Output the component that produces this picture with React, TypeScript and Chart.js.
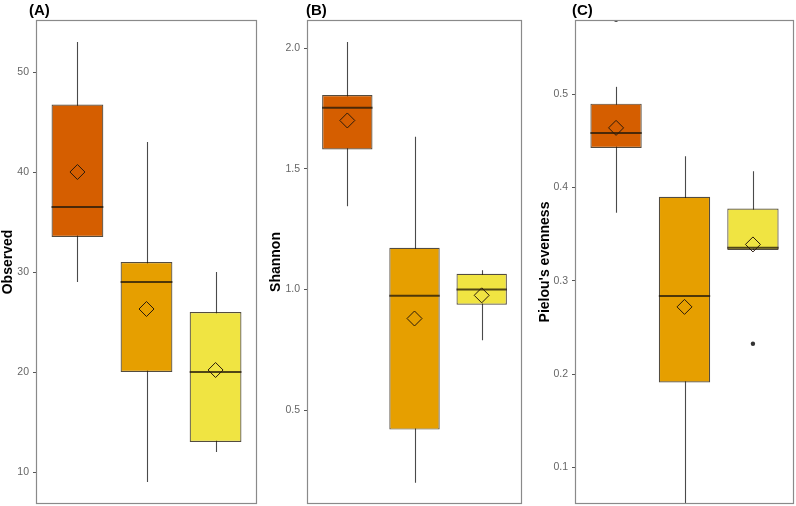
import React, { useEffect, useRef } from 'react';
import { Chart, registerables } from 'chart.js';
Chart.register(...registerables);

// ---------- data ----------
const GROUPS = [1, 2, 3];
const FILLS = ['#D55E00', '#E69F00', '#F0E442'];

// (A) Observed
const OBS_LOW = [29, 9, 12];
const OBS_Q1 = [33.5, 20, 13];
const OBS_MED = [36.5, 29, 20];
const OBS_Q3 = [46.75, 31, 26];
const OBS_HIGH = [53, 43, 30];
const OBS_MEAN = [40, 26.3, 20.2];
const OBS_OUT_X: number[] = [];
const OBS_OUT_Y: number[] = [];
const OBS_TICKS = [10, 20, 30, 40, 50];
const OBS_RANGE = [6.8, 55.2];

// (B) Shannon
const SHA_LOW = [1.345, 0.2, 0.79];
const SHA_Q1 = [1.58, 0.42, 0.937];
const SHA_MED = [1.753, 0.974, 1.0];
const SHA_Q3 = [1.805, 1.173, 1.065];
const SHA_HIGH = [2.025, 1.633, 1.08];
const SHA_MEAN = [1.7, 0.88, 0.976];
const SHA_OUT_X: number[] = [];
const SHA_OUT_Y: number[] = [];
const SHA_TICKS = [0.5, 1.0, 1.5, 2.0];
const SHA_RANGE = [0.112, 2.116];

// (C) Pielou's evenness
const PIE_LOW = [0.373, 0.04, 0.333];
const PIE_Q1 = [0.4424, 0.191, 0.333];
const PIE_MED = [0.4585, 0.2836, 0.3354];
const PIE_Q3 = [0.49, 0.39, 0.3775];
const PIE_HIGH = [0.508, 0.4336, 0.4175];
const PIE_MEAN = [0.464, 0.272, 0.339];
const PIE_OUT_X = [1, 3];
const PIE_OUT_Y = [0.58, 0.2325];
const PIE_TICKS = [0.1, 0.2, 0.3, 0.4, 0.5];
const PIE_RANGE = [0.0606, 0.5797];

const PANELS = [
  { tag: '(A)', ylabel: 'Observed', low: OBS_LOW, q1: OBS_Q1, med: OBS_MED, q3: OBS_Q3, high: OBS_HIGH, mean: OBS_MEAN, outX: OBS_OUT_X, outY: OBS_OUT_Y, ticks: OBS_TICKS, range: OBS_RANGE, digits: 0 },
  { tag: '(B)', ylabel: 'Shannon', low: SHA_LOW, q1: SHA_Q1, med: SHA_MED, q3: SHA_Q3, high: SHA_HIGH, mean: SHA_MEAN, outX: SHA_OUT_X, outY: SHA_OUT_Y, ticks: SHA_TICKS, range: SHA_RANGE, digits: 1 },
  { tag: '(C)', ylabel: "Pielou's evenness", low: PIE_LOW, q1: PIE_Q1, med: PIE_MED, q3: PIE_Q3, high: PIE_HIGH, mean: PIE_MEAN, outX: PIE_OUT_X, outY: PIE_OUT_Y, ticks: PIE_TICKS, range: PIE_RANGE, digits: 1 },
];

// ---------- layout (pixels) ----------
const LAYOUT = [
  { left: 0, width: 262, axisW: 36, padR: 5, tagDx: -7, titleDx: -28 },
  { left: 262, width: 262, axisW: 45, padR: 2, tagDx: -1, titleDx: -31 },
  { left: 524, width: 272, axisW: 51, padR: 2, tagDx: -3, titleDx: -30 },
];
const H = 506;
const FONT = '"Liberation Sans", Arial, sans-serif';
const BOX_LINE = 'rgba(35,25,10,0.78)';
const WHISKER = '#4a4a4a';

const extrasPlugin = {
  id: 'boxExtras',
  beforeDatasetsDraw(chart: any) {
    const o = chart.options.plugins.boxExtras;
    const { ctx, chartArea: ca, scales } = chart;
    ctx.save();
    ctx.beginPath();
    ctx.rect(ca.left, ca.top, ca.right - ca.left, ca.bottom - ca.top);
    ctx.clip();
    ctx.strokeStyle = WHISKER;
    ctx.lineWidth = 1.1;
    GROUPS.forEach((g, i) => {
      const px = Math.round(scales.x.getPixelForValue(g)) + 0.5;
      ctx.beginPath();
      ctx.moveTo(px, scales.y.getPixelForValue(o.low[i]));
      ctx.lineTo(px, scales.y.getPixelForValue(o.high[i]));
      ctx.stroke();
    });
    ctx.restore();
  },
  afterDatasetDraw(chart: any, args: any) {
    if (args.index !== 0) return;
    const o = chart.options.plugins.boxExtras;
    const { ctx, scales } = chart;
    const meta = chart.getDatasetMeta(0);
    ctx.save();
    ctx.strokeStyle = BOX_LINE;
    ctx.lineWidth = 2;
    GROUPS.forEach((g, i) => {
      const bar = meta.data[i];
      const w = bar.width;
      const py = scales.y.getPixelForValue(o.med[i]);
      ctx.beginPath();
      ctx.moveTo(bar.x - w / 2, py);
      ctx.lineTo(bar.x + w / 2, py);
      ctx.stroke();
    });
    ctx.restore();
  },
  afterDraw(chart: any) {
    const o = chart.options.plugins.boxExtras;
    const { ctx, chartArea: ca } = chart;
    ctx.save();
    ctx.strokeStyle = '#8a8a8a';
    ctx.lineWidth = 1.2;
    ctx.strokeRect(ca.left + 0.5, ca.top + 0.5, ca.right - ca.left - 1, ca.bottom - ca.top - 1);
    ctx.fillStyle = '#000';
    ctx.font = `bold 15px ${FONT}`;
    ctx.textAlign = 'left';
    ctx.textBaseline = 'alphabetic';
    ctx.fillText(o.tag, ca.left + o.tagDx, 15);
    ctx.font = `bold 14px ${FONT}`;
    ctx.translate(ca.left + o.titleDx, (ca.top + ca.bottom) / 2);
    ctx.rotate(-Math.PI / 2);
    ctx.textAlign = 'center';
    ctx.textBaseline = 'middle';
    ctx.fillText(o.ylabel, 0, 0);
    ctx.restore();
  },
};

function Panel({ idx }: { idx: number }) {
  const ref = useRef<HTMLCanvasElement>(null);
  const p = PANELS[idx];
  const L = LAYOUT[idx];
  useEffect(() => {
    if (!ref.current) return;
    const chart = new Chart(ref.current, {
      type: 'bar',
      data: {
        datasets: [
          {
            type: 'bar',
            data: GROUPS.map((g, i) => ({ x: g, y: [p.q1[i], p.q3[i]] })) as any,
            backgroundColor: FILLS,
            borderColor: BOX_LINE,
            borderWidth: 1.2,
            borderSkipped: false,
            barPercentage: 0.75,
            categoryPercentage: 1,
            order: 2,
          } as any,
          {
            type: 'scatter',
            data: GROUPS.map((g, i) => ({ x: g, y: p.mean[i] })),
            pointStyle: 'rectRot',
            pointRadius: 7.5,
            pointBorderColor: '#2a1a0c',
            pointBorderWidth: 1,
            pointBackgroundColor: 'rgba(0,0,0,0)',
            order: 0,
          } as any,
          {
            type: 'scatter',
            data: p.outX.map((x, i) => ({ x, y: p.outY[i] })),
            pointStyle: 'circle',
            pointRadius: 2.2,
            pointBorderWidth: 0,
            pointBackgroundColor: '#333',
            order: 1,
          } as any,
        ],
      },
      options: {
        animation: false,
        responsive: false,
        events: [],
        layout: { padding: { left: 0, right: L.padR, top: 20, bottom: 2 }, autoPadding: false },
        plugins: {
          legend: { display: false },
          tooltip: { enabled: false },
          boxExtras: { ...p, tagDx: L.tagDx, titleDx: L.titleDx },
        } as any,
        scales: {
          x: {
            type: 'linear',
            min: 0.4,
            max: 3.6,
            offset: false,
            bounds: 'ticks',
            display: false,
            grid: { offset: false },
            afterBuildTicks: (s: any) => { s.ticks = GROUPS.map((v) => ({ value: v })); },
          },
          y: {
            type: 'linear',
            min: p.range[0],
            max: p.range[1],
            afterFit: (s: any) => { s.width = L.axisW; s.paddingTop = 0; s.paddingBottom = 0; },
            afterBuildTicks: (s: any) => { s.ticks = p.ticks.map((v) => ({ value: v })); },
            ticks: {
              callback: (v: any) => Number(v).toFixed(p.digits),
              color: '#666',
              font: { size: 10.5, family: FONT },
              padding: 4,
            },
            grid: { drawOnChartArea: false, drawTicks: true, tickLength: 3, color: '#555', lineWidth: 1 },
            border: { display: false },
          },
        },
      } as any,
      plugins: [extrasPlugin as any],
    });
    return () => chart.destroy();
  }, []);
  return (
    <canvas
      ref={ref}
      width={L.width}
      height={H}
      style={{ position: 'absolute', left: L.left, top: 0, width: L.width, height: H }}
    />
  );
}

export default function App() {
  return (
    <div style={{ position: 'absolute', left: 0, top: 0, width: 796, height: H, background: '#fff', overflow: 'hidden' }}>
      <Panel idx={0} />
      <Panel idx={1} />
      <Panel idx={2} />
    </div>
  );
}
